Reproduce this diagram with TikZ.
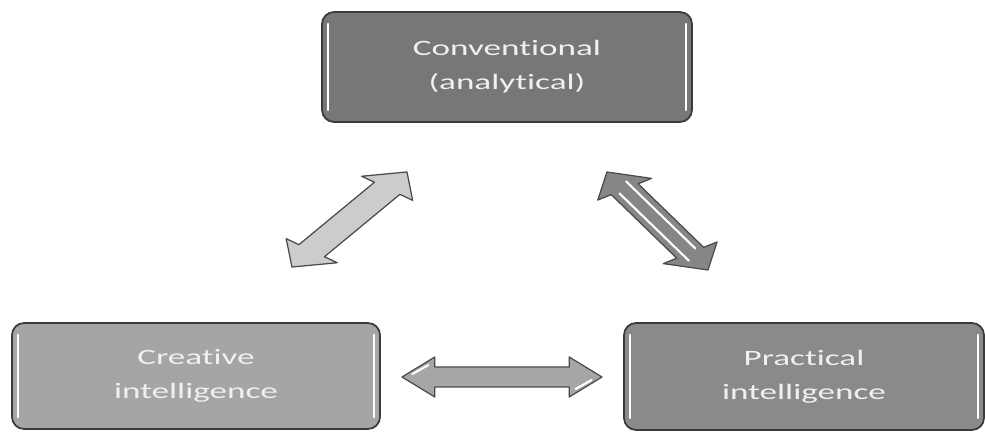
\documentclass[tikz,border=0pt]{standalone}
\usepackage{fontspec}
\newfontfamily\boxfont[FakeStretch=1.6, Ligatures=NoCommon]{Carlito}
\usetikzlibrary{calc}
\definecolor{convgray}{HTML}{777777}
\definecolor{creatgray}{HTML}{A5A5A5}
\definecolor{practgray}{HTML}{8A8A8A}
\definecolor{boxedge}{HTML}{3A3A3A}
\definecolor{boxtext}{HTML}{F0F0F0}
\definecolor{arrowedge}{HTML}{4A4A4A}
\tikzset{
	% ------- every something
	every picture/.style={
		x=0.02cm, y=-0.02cm,
	},
	% ------- custom
	box/.style={
		draw=boxedge, line width=1pt,
		rounded corners=0.24cm,
		inner sep=0pt, align=center,
		text=boxtext,
		font={\boxfont\fontsize{12.5}{19.3}\selectfont},
		path picture={
			\draw[white, line width=1.3pt, line cap=round]
				($(path picture bounding box.north west)+(6,12)$) --
				($(path picture bounding box.south west)+(6,-12)$);
			\draw[white, line width=1.3pt, line cap=round]
				($(path picture bounding box.north east)+(-6,12)$) --
				($(path picture bounding box.south east)+(-6,-12)$);
		},
	},
	block arrow/.style={
		transform shape,
		draw=arrowedge, line width=0.7pt, line join=round,
	},
	glint/.style={
		white, line width=1.2pt, line cap=round,
	},
	pics/dblarrow/.style={
		code={
			\draw[pic actions]
				(-#1,0) -- (-#1+20.5,-20) -- (-#1+20.5,-10) --
				(#1-20.5,-10) -- (#1-20.5,-20) -- (#1,0) --
				(#1-20.5,20) -- (#1-20.5,10) -- (-#1+20.5,10) --
				(-#1+20.5,20) -- cycle;
		}
	},
}

\begin{document}
\begin{tikzpicture}

% frame %{{{1

	\useasboundingbox (0,0) rectangle (985,432);

% boxes %{{{1

	\node[box, fill=convgray, minimum width=7.4cm, minimum height=2.2cm]
		(conv) at (507,67) {Conventional\\(analytical)};
	\node[box, fill=creatgray, minimum width=7.36cm, minimum height=2.12cm]
		(creat) at (196,376) {Creative\\intelligence};
	\node[box, fill=practgray, minimum width=7.2cm, minimum height=2.14cm]
		(pract) at (804,376.5) {Practical\\intelligence};

% arrows %{{{1

	\begin{scope}[xscale=1.6]
		% creative -- conventional
		\pic[block arrow, fill=gray!40, rotate=52.9] at (218.4,219.5) {dblarrow=59.6};
		% conventional -- practical
		\begin{scope}[shift={(410.9,221)}, rotate=-57.2]
			\pic[block arrow, fill=gray!95] at (0,0) {dblarrow=58.3};
			\draw[glint] (-44,-5) -- (36,-5);
			\draw[glint] (-36,5) -- (44,5);
		\end{scope}
		% creative -- practical
		\begin{scope}[shift={(313.75,377)}]
			\pic[block arrow, fill=gray!70] at (0,0) {dblarrow=62.5};
			\draw[glint] (-56,-3) -- (-46,-12);
			\draw[glint] (56,3) -- (46,12);
		\end{scope}
	\end{scope}

% closing %{{{1

\end{tikzpicture}
\end{document}
